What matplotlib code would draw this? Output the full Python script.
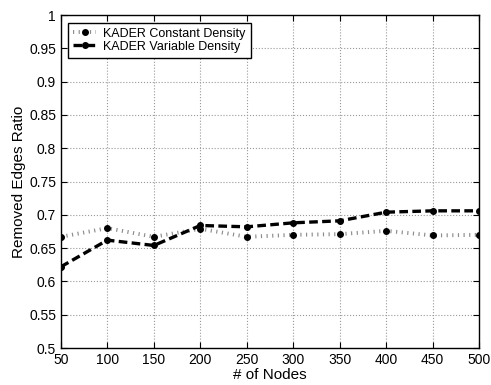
import numpy as np
import matplotlib.pyplot as plt

plt.rcParams['font.family'] = ['Liberation Sans', 'DejaVu Sans']

nodes = [50, 100, 150, 200, 250, 300, 350, 400, 450, 500]
constant_density = [0.667, 0.680, 0.667, 0.679, 0.667, 0.670, 0.671, 0.676, 0.669, 0.670]
variable_density = [0.622, 0.662, 0.654, 0.684, 0.682, 0.688, 0.691, 0.704, 0.706, 0.706]

fig = plt.figure(figsize=(4.91, 3.85), dpi=100)
ax = fig.add_axes([0.124, 0.096, 0.852, 0.865])

ax.plot(nodes, constant_density, linestyle=(0, (0.3, 1.15)), color='#8c8c8c',
        linewidth=2.8, dash_capstyle='butt',
        marker='o', markersize=4, markerfacecolor='k', markeredgecolor='k',
        label='KADER Constant Density')
ax.plot(nodes, variable_density, linestyle=(0, (2.6, 1.3)), color='k',
        linewidth=2.4, dash_capstyle='butt', marker='o', markersize=4,
        markerfacecolor='k', markeredgecolor='k',
        label='KADER Variable Density')

ax.set_xlim(50, 500)
ax.set_ylim(0.5, 1.0)
ax.set_xticks(np.arange(50, 501, 50))
ax.set_yticks(np.arange(0.5, 1.001, 0.05))
ax.set_yticklabels(['0.5', '0.55', '0.6', '0.65', '0.7', '0.75', '0.8', '0.85',
                    '0.9', '0.95', '1'])
ax.grid(True, linestyle=':', color='#999999', linewidth=0.8)
ax.tick_params(direction='in', top=True, right=True, labelsize=10, length=4)
for s in ax.spines.values():
    s.set_linewidth(1.0)

ax.set_xlabel('# of Nodes', fontsize=11, labelpad=1)
ax.set_ylabel('Removed Edges Ratio', fontsize=11, labelpad=2)

leg = ax.legend(loc='upper left', fontsize=9, frameon=True, fancybox=False,
                edgecolor='k', framealpha=1, handlelength=1.8, borderpad=0.4,
                labelspacing=0.1, handletextpad=0.6, borderaxespad=0.6)
leg.get_frame().set_linewidth(1.0)

fig.savefig('out.png', dpi=100)
